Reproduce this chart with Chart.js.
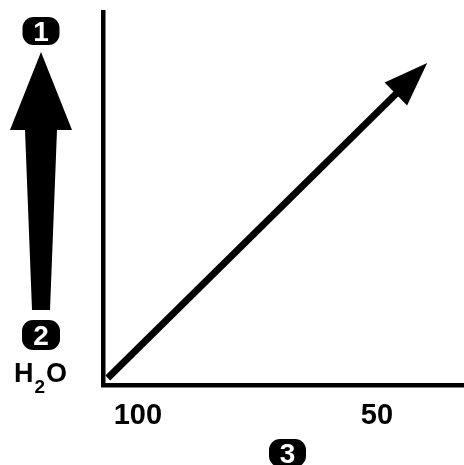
<!DOCTYPE html>
<html><head><meta charset="utf-8">
<script src="https://cdn.jsdelivr.net/npm/chart.js@4/dist/chart.umd.min.js"></script>
<style>html,body{margin:0;padding:0;background:#fff;overflow:hidden}</style>
</head><body>
<canvas id="c" width="464" height="465"></canvas>
<script>
// ---- data ----
const xTickValues = [100, 50];          // x-axis tick labels (axis runs high -> low)
const xRange = [31.8, 107.3];           // visible x range
const yRange = [0, 100];                // arbitrary vertical scale
const arrowX = [106.3, 39.5];           // diagonal arrow: start, tip
const arrowY = [1.9, 86.3];
const badgeTop = '1';
const badgeMid = '2';
const badgeAxis = '3';
const waterParts = ['H', '2', 'O'];

const FONT = '"Liberation Sans", Arial, sans-serif';

function badge(ctx, cx, cy, w, h, text) {
  ctx.save();
  ctx.fillStyle = '#000';
  ctx.beginPath();
  ctx.roundRect(cx - w / 2, cy - h / 2, w, h, 11);
  ctx.fill();
  ctx.fillStyle = '#fff';
  ctx.font = 'bold 28px ' + FONT;
  ctx.textAlign = 'center';
  ctx.textBaseline = 'alphabetic';
  ctx.fillText(text, cx, cy + 0.358 * 28);
  ctx.restore();
}

const decor = {
  id: 'decor',
  beforeDatasetsDraw(chart) {
    const meta = chart.getDatasetMeta(0);
    const p = meta.data;
    const a = p[p.length - 2], b = p[p.length - 1];
    const dx = b.x - a.x, dy = b.y - a.y, L = Math.hypot(dx, dy);
    chart._tip = { x: b.x, y: b.y, ux: dx / L, uy: dy / L };
    b.x = b.x - chart._tip.ux * 36; b.y = b.y - chart._tip.uy * 36;
  },
  afterDatasetsDraw(chart) {
    const ctx = chart.ctx, t = chart._tip;
    const meta = chart.getDatasetMeta(0);
    const b = meta.data[meta.data.length - 1];
    b.x = t.x; b.y = t.y;
    const headLen = 44, half = 16;
    const bx = t.x - t.ux * headLen, by = t.y - t.uy * headLen;
    const nx = -t.uy, ny = t.ux;
    ctx.save();
    ctx.fillStyle = '#000';
    ctx.beginPath();
    ctx.moveTo(t.x, t.y);
    ctx.lineTo(bx + nx * half, by + ny * half);
    ctx.lineTo(bx - nx * half, by - ny * half);
    ctx.closePath();
    ctx.fill();
    ctx.restore();
  },
  afterDraw(chart) {
    const ctx = chart.ctx, area = chart.chartArea;
    const cx = area.left - 62;
    // big vertical arrow
    ctx.save();
    ctx.fillStyle = '#000';
    ctx.beginPath();
    ctx.moveTo(cx, 52);
    ctx.lineTo(cx + 31, 130);
    ctx.lineTo(cx + 16, 130);
    ctx.lineTo(cx + 9, 310);
    ctx.lineTo(cx - 9, 310);
    ctx.lineTo(cx - 16, 130);
    ctx.lineTo(cx - 31, 130);
    ctx.closePath();
    ctx.fill();
    ctx.restore();
    badge(ctx, cx, 31, 37, 28, badgeTop);
    badge(ctx, cx, 335, 38, 30, badgeMid);
    // H2O
    ctx.save();
    ctx.fillStyle = '#000';
    ctx.textBaseline = 'alphabetic';
    ctx.textAlign = 'left';
    ctx.font = 'bold 27px ' + FONT;
    ctx.fillText(waterParts[0], 14, 382);
    const wH = ctx.measureText(waterParts[0]).width;
    ctx.font = 'bold 19px ' + FONT;
    ctx.fillText(waterParts[1], 14 + wH + 1, 393);
    const w2 = ctx.measureText(waterParts[1]).width;
    ctx.font = 'bold 27px ' + FONT;
    ctx.fillText(waterParts[2], 14 + wH + 1 + w2 + 1, 382);
    ctx.restore();
    // axis badge
    badge(ctx, (area.left + area.right) / 2 + 4, 453, 37, 28, badgeAxis);
  }
};

new Chart(document.getElementById('c'), {
  type: 'scatter',
  data: {
    datasets: [{
      data: arrowX.map((x, i) => ({ x, y: arrowY[i] })),
      showLine: true,
      borderColor: '#000',
      borderWidth: 7,
      borderCapStyle: 'butt',
      pointRadius: 0,
      fill: false
    }]
  },
  options: {
    responsive: false,
    animation: false,
    devicePixelRatio: 1,
    layout: { padding: { top: 12, left: 0, right: 0, bottom: 0 } },
    plugins: { legend: { display: false }, tooltip: { enabled: false } },
    scales: {
      x: {
        type: 'linear',
        reverse: true,
        min: xRange[0], max: xRange[1],
        afterBuildTicks: s => { s.ticks = xTickValues.map(v => ({ value: v })); },
        afterFit: s => { s.height = 80; },
        grid: { display: false, drawTicks: false },
        border: { display: true, color: '#000', width: 4.5 },
        ticks: {
          color: '#000',
          padding: 14,
          autoSkip: false,
          maxRotation: 0,
          font: { family: FONT, size: 29, weight: 'bold' }
        }
      },
      y: {
        type: 'linear',
        min: yRange[0], max: yRange[1],
        afterFit: s => { s.width = 103; },
        grid: { display: false, drawTicks: false },
        border: { display: true, color: '#000', width: 4.5 },
        ticks: { display: false }
      }
    }
  },
  plugins: [decor]
});
</script>
</body></html>
